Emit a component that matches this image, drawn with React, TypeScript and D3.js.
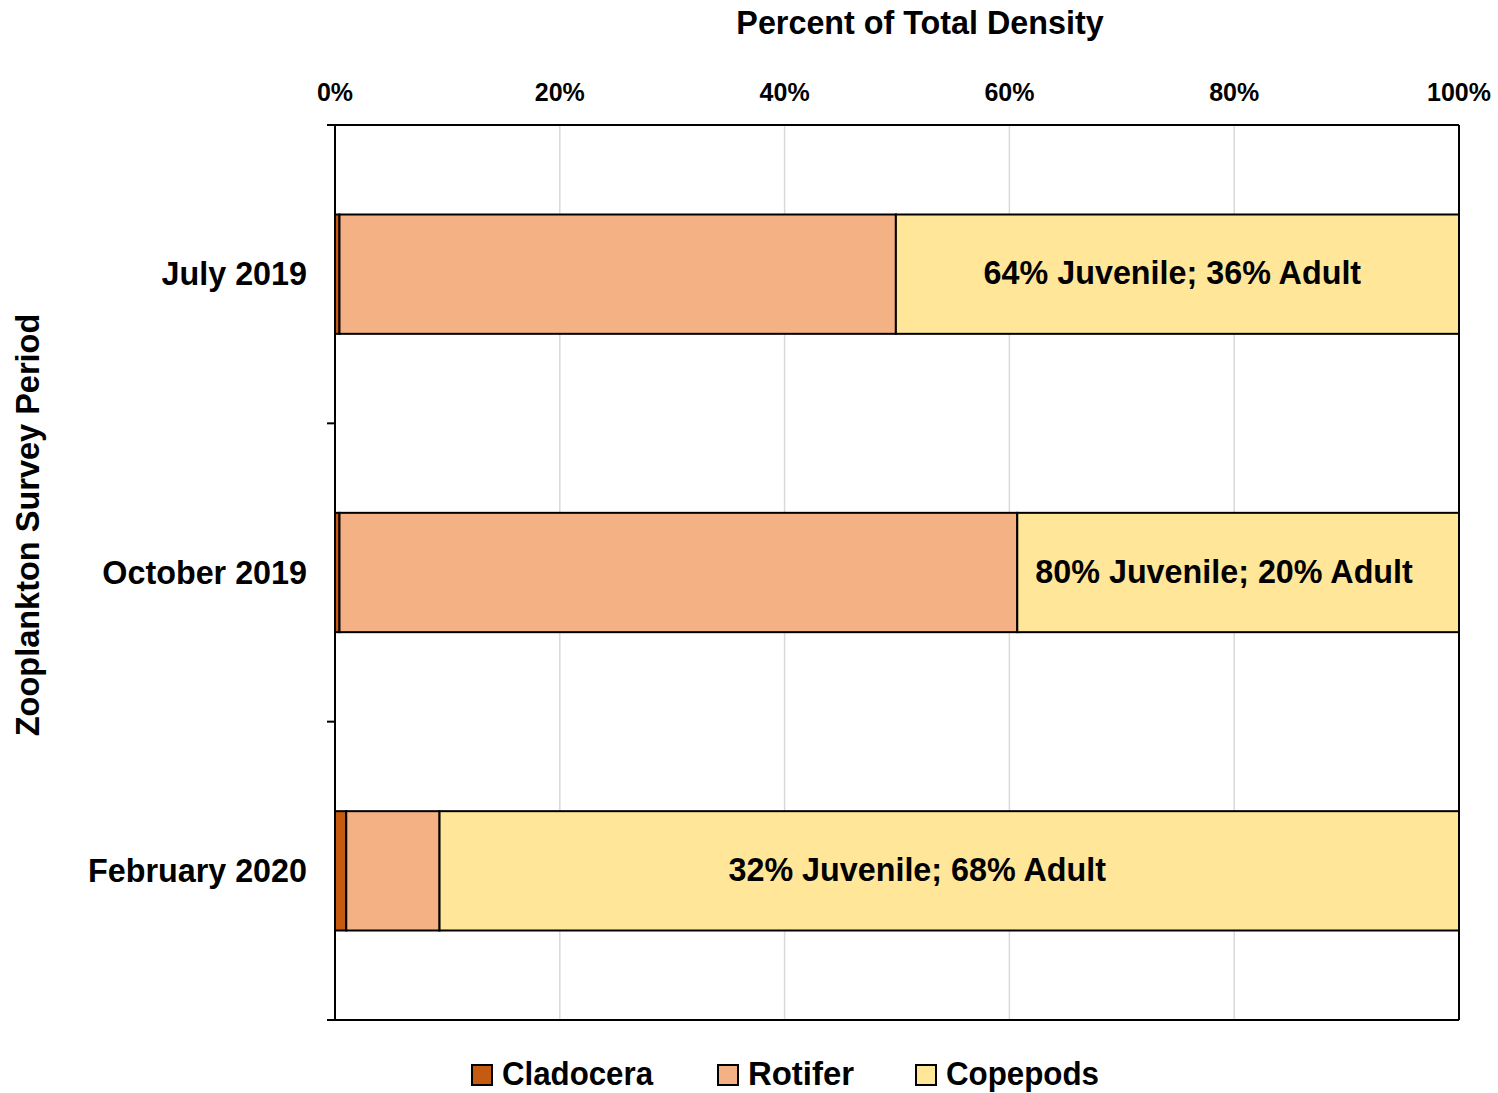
import React from "react";
import * as d3 from "d3";

const categories = ["July 2019", "October 2019", "February 2020"];
const seriesNames = ["Cladocera", "Rotifer", "Copepods"];
const cladocera = [0.4, 0.4, 1.0];
const rotifer = [49.5, 60.3, 8.3];
const copepods = [50.1, 39.3, 90.7];
const barLabels = [
  "64% Juvenile; 36% Adult",
  "80% Juvenile; 20% Adult",
  "32% Juvenile; 68% Adult",
];
const labelCenters = [74.5, 79.1, 51.8];
const xTicks = [0, 20, 40, 60, 80, 100];
const colors = ["#C55A11", "#F4B183", "#FFE699"];

const W = 1498;
const H = 1093;
const left = 335;
const right = 1459;
const top = 125;
const bottom = 1020;
const font = "'Liberation Sans', Arial, sans-serif";

export default function App() {
  const x = d3.scaleLinear().domain([0, 100]).range([left, right]);
  const y = d3
    .scaleBand<string>()
    .domain(categories)
    .range([top, bottom])
    .paddingInner(0.6)
    .paddingOuter(0.3);

  const rows = categories.map((c, i) => ({
    cat: c,
    Cladocera: cladocera[i],
    Rotifer: rotifer[i],
    Copepods: copepods[i],
  }));
  const stack = d3.stack<any>().keys(seriesNames)(rows);
  const step = y.step();
  const bounds = [0, 1, 2, 3].map((k) => top + k * step);

  const legendItems = [
    { name: "Cladocera", box: 472, text: 502, w: 151 },
    { name: "Rotifer", box: 718, text: 748, w: 106 },
    { name: "Copepods", box: 916, text: 946, w: 153 },
  ];

  return (
    <svg
      width={W}
      height={H}
      style={{ position: "absolute", left: 0, top: 0, background: "#fff" }}
    >
      <rect x={0} y={0} width={W} height={H} fill="#fff" />
      {xTicks
        .filter((t) => t > 0 && t < 100)
        .map((t) => (
          <line
            key={t}
            x1={x(t)}
            x2={x(t)}
            y1={top}
            y2={bottom}
            stroke="#d9d9d9"
            strokeWidth={1.5}
          />
        ))}
      {stack.map((s, si) =>
        s.map((d, i) => (
          <rect
            key={si + "-" + i}
            x={x(d[0])}
            width={x(d[1]) - x(d[0])}
            y={y(categories[i])}
            height={y.bandwidth()}
            fill={colors[si]}
            stroke="#000"
            strokeWidth={2}
          />
        ))
      )}
      <line x1={left} x2={right} y1={top} y2={top} stroke="#000" strokeWidth={2} />
      <line x1={right} x2={right} y1={top} y2={bottom} stroke="#000" strokeWidth={2} />
      <line x1={left} x2={right} y1={bottom} y2={bottom} stroke="#000" strokeWidth={2} />
      <line x1={left} x2={left} y1={top} y2={bottom} stroke="#000" strokeWidth={2} />
      {bounds.map((b, i) => (
        <line key={i} x1={left - 8} x2={left} y1={b} y2={b} stroke="#000" strokeWidth={2} />
      ))}
      {xTicks.map((t) => (
        <text
          key={t}
          x={x(t)}
          y={101}
          textAnchor="middle"
          fontFamily={font}
          fontWeight="bold"
          fontSize={25}
          fill="#000"
        >
          {t}%
        </text>
      ))}
      <text
        x={920}
        y={34}
        textAnchor="middle"
        fontFamily={font}
        fontWeight="bold"
        fontSize={32.3}
        fill="#000"
      >
        Percent of Total Density
      </text>
      <text
        transform="translate(39,525) rotate(-90)"
        textAnchor="middle"
        fontFamily={font}
        fontWeight="bold"
        fontSize={32.5}
        fill="#000"
      >
        Zooplankton Survey Period
      </text>
      {categories.map((c) => (
        <text
          key={c}
          x={307}
          y={(y(c) as number) + y.bandwidth() / 2 + 11}
          textAnchor="end"
          fontFamily={font}
          fontWeight="bold"
          fontSize={32.3}
          fill="#000"
        >
          {c}
        </text>
      ))}
      {categories.map((c, i) => (
        <text
          key={"l" + c}
          x={x(labelCenters[i])}
          y={(y(c) as number) + y.bandwidth() / 2 + 10}
          textAnchor="middle"
          fontFamily={font}
          fontWeight="bold"
          fontSize={32.3}
          fill="#000"
        >
          {barLabels[i]}
        </text>
      ))}
      {legendItems.map((l, i) => (
        <g key={l.name}>
          <rect
            x={l.box}
            y={1065}
            width={20}
            height={20}
            fill={colors[i]}
            stroke="#000"
            strokeWidth={2}
          />
          <text
            x={l.text}
            y={1085}
            fontFamily="'Liberation Sans Narrow', 'Arial Narrow', 'Liberation Sans', sans-serif"
            fontWeight="bold"
            fontSize={34}
            textLength={l.w}
            lengthAdjust="spacingAndGlyphs"
            fill="#000"
          >
            {l.name}
          </text>
        </g>
      ))}
    </svg>
  );
}
